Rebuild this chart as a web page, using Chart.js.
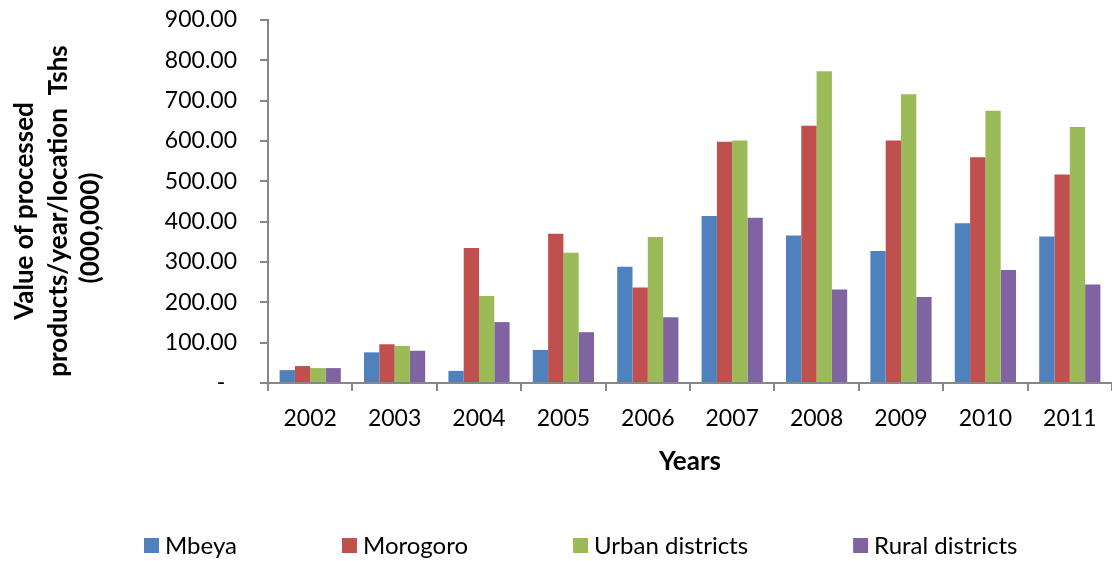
<!DOCTYPE html>
<html>
<head>
<meta charset="utf-8">
<title>Value of processed products</title>
<script src="https://cdn.jsdelivr.net/npm/chart.js@4/dist/chart.umd.min.js"></script>
<style>
  html, body { margin: 0; padding: 0; background: #ffffff; }
  #wrap { width: 1112px; height: 561px; position: relative; }
</style>
</head>
<body>
<div id="wrap"><canvas id="chart" width="1112" height="561"></canvas></div>
<script>
// Years on the category axis
const years = ['2002', '2003', '2004', '2005', '2006', '2007', '2008', '2009', '2010', '2011'];

// Value of processed products per year and location, Tshs (000,000)
const mbeya    = [32, 76, 30, 82, 288, 414, 366, 327, 396, 363];
const morogoro = [42, 96, 335, 370, 237, 598, 638, 601, 560, 517];
const urban    = [37, 92, 216, 323, 362, 601, 773, 716, 675, 635];
const rural    = [37, 80, 151, 126, 163, 410, 232, 213, 280, 244];

// Series names
const seriesNames = ['Mbeya', 'Morogoro', 'Urban districts', 'Rural districts'];

// Value axis tick labels, from 0 up to 900 in steps of 100
const yTickLabels = ['-  ', '100.00', '200.00', '300.00', '400.00', '500.00', '600.00', '700.00', '800.00', '900.00'];

// Y axis title, one entry per line
const yTitleLines = ['Value of processed', 'products/year/location  Tshs', '(000,000)'];

const colors = ['#4F81BD', '#C0504D', '#9BBB59', '#8064A2'];
const axisGrey = '#878787';
const FONT = 'Lato';

Chart.defaults.font.family = FONT;
Chart.defaults.color = '#000000';

// Rotated three-line title to the left of the value axis
const yTitlePlugin = {
  id: 'yTitle',
  afterDraw(chart) {
    const ctx = chart.ctx;
    const spots = [[25, 211], [59, 211], [91, 228]];
    ctx.save();
    ctx.font = 'bold 26px ' + FONT;
    ctx.fillStyle = '#000000';
    ctx.textAlign = 'center';
    ctx.textBaseline = 'middle';
    yTitleLines.forEach((line, i) => {
      ctx.save();
      ctx.translate(spots[i][0], spots[i][1]);
      ctx.rotate(-Math.PI / 2);
      ctx.fillText(line, 0, 0);
      ctx.restore();
    });
    ctx.restore();
  }
};

// Legend row under the chart: square swatch followed by the series name
const legendPlugin = {
  id: 'rowLegend',
  afterDraw(chart) {
    const ctx = chart.ctx;
    ctx.save();
    ctx.font = '24px ' + FONT;
    ctx.textAlign = 'left';
    ctx.textBaseline = 'middle';
    let x = 144;
    const y = 545.5;
    chart.data.datasets.forEach(ds => {
      ctx.fillStyle = ds.backgroundColor;
      ctx.fillRect(x, y - 7.5, 15, 15);
      ctx.fillStyle = '#000000';
      ctx.fillText(ds.label, x + 21, y + 1);
      x += 21 + ctx.measureText(ds.label).width + 105;
    });
    ctx.restore();
  }
};

const seriesData = [mbeya, morogoro, urban, rural];

new Chart(document.getElementById('chart'), {
  type: 'bar',
  data: {
    labels: years,
    datasets: seriesData.map((values, i) => ({
      label: seriesNames[i],
      data: values,
      backgroundColor: colors[i],
      borderWidth: 0,
      barPercentage: 1.0,
      categoryPercentage: 0.725
    }))
  },
  options: {
    responsive: false,
    animation: false,
    layout: { padding: { top: 20, right: 0, bottom: 78, left: 0 } },
    plugins: {
      legend: { display: false },
      tooltip: { enabled: false }
    },
    scales: {
      x: {
        afterFit(scale) { scale.height = 100; },
        grid: {
          offset: true,
          drawOnChartArea: false,
          drawTicks: true,
          tickLength: 8,
          color: axisGrey,
          lineWidth: 2
        },
        border: { display: true, color: axisGrey, width: 2 },
        ticks: { font: { size: 23 }, color: '#000000', padding: 14, maxRotation: 0 },
        title: {
          display: true,
          text: 'Years',
          font: { size: 26, weight: 'bold' },
          color: '#000000',
          padding: { top: 0, bottom: 6 }
        }
      },
      y: {
        min: 0,
        max: 900,
        afterFit(scale) {
          scale.width = 268;
          // plot top is set by the layout padding alone
          scale.paddingTop = 0;
          scale.paddingBottom = 0;
        },
        grid: {
          drawOnChartArea: false,
          drawTicks: true,
          tickLength: 8,
          color: axisGrey,
          lineWidth: 2
        },
        border: { display: true, color: axisGrey, width: 2 },
        ticks: {
          stepSize: 100,
          padding: 23,
          font: { size: 23 },
          color: '#000000',
          callback(value) { return yTickLabels[Math.round(value / 100)]; }
        }
      }
    }
  },
  plugins: [yTitlePlugin, legendPlugin]
});
</script>
</body>
</html>
